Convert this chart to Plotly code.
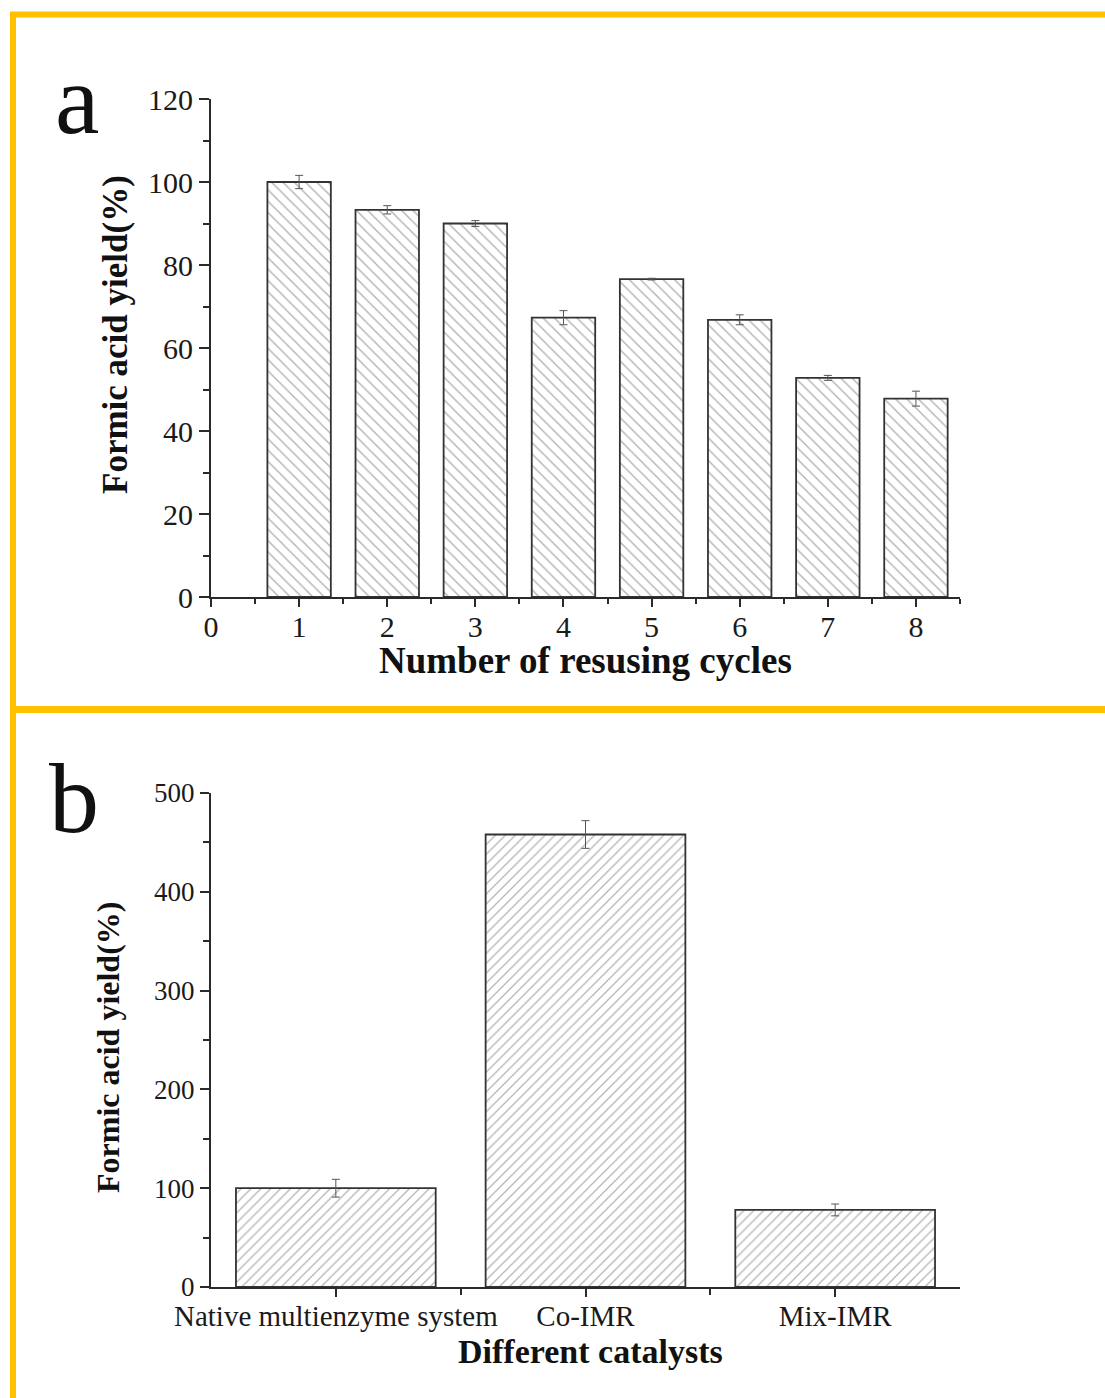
import plotly.graph_objects as go

W, H = 1105, 1398

# ---- data ----
cycles = [1, 2, 3, 4, 5, 6, 7, 8]
yield_a = [100.0, 93.3, 90.0, 67.3, 76.6, 66.8, 52.8, 47.8]
err_a = [1.6, 1.0, 0.7, 1.7, 0.2, 1.2, 0.6, 1.8]

catalysts = ["Native multienzyme system", "Co-IMR", "Mix-IMR"]
yield_b = [100.0, 458.0, 78.0]
err_b = [9.0, 14.0, 6.0]

FONT = "Liberation Serif"
ORANGE = "#FFC000"
AX = "#2a2a2a"


def px(x):
    return x / W


def py(y):
    return 1 - y / H


fig = go.Figure()

fig.add_trace(go.Bar(
    x=cycles, y=yield_a, width=0.72, xaxis="x", yaxis="y",
    marker=dict(color="white", line=dict(color="#333333", width=1.8),
                pattern=dict(shape="\\", fgcolor="#6a6a6a", bgcolor="white",
                             size=8, solidity=0.18)),
    error_y=dict(type="data", array=err_a, color="#555555", thickness=1, width=4),
    showlegend=False,
))

fig.add_trace(go.Bar(
    x=[0, 1, 2], y=yield_b, width=0.8, xaxis="x2", yaxis="y2",
    marker=dict(color="white", line=dict(color="#333333", width=1.8),
                pattern=dict(shape="/", fgcolor="#6a6a6a", bgcolor="white",
                             size=7, solidity=0.18)),
    error_y=dict(type="data", array=err_b, color="#555555", thickness=1, width=4),
    showlegend=False,
))

axis_common = dict(showline=True, linecolor=AX, linewidth=2, ticks="outside",
                   tickcolor=AX, tickwidth=2, showgrid=False, zeroline=False,
                   mirror=False, automargin=False)

fig.update_layout(
    width=W, height=H,
    margin=dict(l=0, r=0, t=0, b=0, pad=0, autoexpand=False),
    paper_bgcolor="white", plot_bgcolor="white",
    font=dict(family=FONT, color="#1a1a1a"),
    xaxis=dict(domain=[px(211), px(960)], range=[0, 8.5], anchor="y",
               tickmode="array", tickvals=list(range(0, 9)), ticklen=8,
               ticklabelstandoff=-6,
               tickfont=dict(size=30, family=FONT),
               minor=dict(tickvals=[i + 0.5 for i in range(0, 9)], ticklen=5,
                          tickwidth=2, tickcolor=AX, ticks="outside"),
               **axis_common),
    yaxis=dict(domain=[py(597), py(99)], range=[0, 120], anchor="x",
               tickmode="array", tickvals=list(range(0, 121, 20)), ticklen=10,
               tickfont=dict(size=30, family=FONT),
               minor=dict(tickvals=list(range(10, 120, 20)), ticklen=6,
                          tickwidth=2, tickcolor=AX, ticks="outside"),
               **axis_common),
    xaxis2=dict(domain=[px(211), px(960)], range=[-0.5, 2.5], anchor="y2",
                tickmode="array", tickvals=[0, 1, 2], ticktext=catalysts,
                ticklen=8, ticklabelstandoff=-6,
                tickfont=dict(size=29, family=FONT),
                minor=dict(tickvals=[0.5, 1.5], ticklen=6, tickwidth=2,
                           tickcolor=AX, ticks="outside"),
                **axis_common),
    yaxis2=dict(domain=[py(1287), py(793)], range=[0, 500], anchor="x2",
                tickmode="array", tickvals=list(range(0, 501, 100)), ticklen=9,
                tickfont=dict(size=27, family=FONT),
                minor=dict(tickvals=list(range(50, 500, 100)), ticklen=6,
                           tickwidth=2, tickcolor=AX, ticks="outside"),
                **axis_common),
)

# axis titles and panel letters
ann = [
    dict(text="<b>Number of resusing cycles</b>", x=px(585), y=py(660), size=37, angle=0),
    dict(text="<b>Formic acid yield(%)</b>", x=px(115), y=py(335), size=35, angle=-90),
    dict(text="<b>Different catalysts</b>", x=px(590), y=py(1351), size=34, angle=0),
    dict(text="<b>Formic acid yield(%)</b>", x=px(108), y=py(1048), size=32, angle=-90),
    dict(text="a", x=px(77), y=py(100), size=100, angle=0),
    dict(text="b", x=px(74), y=py(798), size=100, angle=0),
]
for a in ann:
    fig.add_annotation(text=a["text"], x=a["x"], y=a["y"], xref="paper", yref="paper",
                       xanchor="center", yanchor="middle", showarrow=False,
                       textangle=a["angle"],
                       font=dict(family=FONT, size=a["size"], color="#111111"))

# orange frame lines
shapes = [
    dict(x0=px(10), x1=px(1105), y0=py(14.5), y1=py(14.5), w=6),
    dict(x0=px(13), x1=px(13), y0=py(12), y1=py(1398), w=6),
    dict(x0=px(10), x1=px(1105), y0=py(709.5), y1=py(709.5), w=7),
]
for s in shapes:
    fig.add_shape(type="line", xref="paper", yref="paper", x0=s["x0"], x1=s["x1"],
                  y0=s["y0"], y1=s["y1"], line=dict(color=ORANGE, width=s["w"]))

fig.write_html("out.html")
